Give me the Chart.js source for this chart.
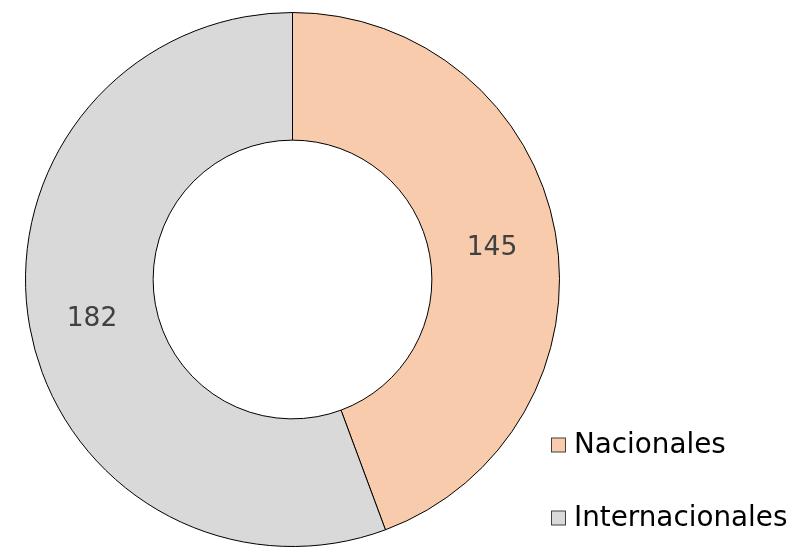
<!DOCTYPE html>
<html>
<head>
<meta charset="utf-8">
<script src="https://cdn.jsdelivr.net/npm/chart.js@4/dist/chart.umd.min.js"></script>
<style>
html,body{margin:0;padding:0;background:#fff;}
#wrap{width:793px;height:547px;position:relative;overflow:hidden;}
</style>
</head>
<body>
<div id="wrap"><canvas id="c" width="793" height="547"></canvas></div>
<script>
const categories = ["Nacionales", "Internacionales"];
const values = [145, 182];
const colors = ["#F8CBAD", "#D9D9D9"];

const labelPlugin = {
  id: 'sliceLabels',
  afterDatasetsDraw(chart) {
    const ctx = chart.ctx;
    const meta = chart.getDatasetMeta(0);
    ctx.save();
    ctx.font = '26.5px "DejaVu Sans"';
    ctx.fillStyle = '#404040';
    ctx.textAlign = 'center';
    ctx.textBaseline = 'alphabetic';
    meta.data.forEach((arc, i) => {
      const p = arc.getCenterPoint();
      ctx.fillText(String(values[i]), p.x - 0.5, p.y + 11);
    });
    ctx.restore();
  }
};

const legendPlugin = {
  id: 'customLegend',
  afterDraw(chart) {
    const ctx = chart.ctx;
    ctx.save();
    ctx.font = '27.8px "DejaVu Sans"';
    ctx.textBaseline = 'alphabetic';
    ctx.textAlign = 'left';
    const x0 = 551.5, y0 = 452.5, gap = 73, box = 14;
    categories.forEach((c, i) => {
      const y = y0 + i * gap;
      ctx.fillStyle = colors[i];
      ctx.fillRect(x0, y - 14.5, box, box);
      ctx.strokeStyle = '#404040';
      ctx.lineWidth = 1;
      ctx.strokeRect(x0, y - 14.5, box, box);
      ctx.fillStyle = '#000000';
      ctx.fillText(c, 574, y);
    });
    ctx.restore();
  }
};

new Chart(document.getElementById('c'), {
  type: 'doughnut',
  data: {
    labels: categories,
    datasets: [{
      data: values,
      backgroundColor: colors,
      borderColor: '#000000',
      borderWidth: 1,
      borderAlign: 'center'
    }]
  },
  options: {
    responsive: false,
    animation: false,
    cutout: '52.2%',
    layout: { padding: { left: 24, right: 232, top: 12, bottom: -2 } },
    plugins: {
      legend: { display: false },
      tooltip: { enabled: false }
    }
  },
  plugins: [labelPlugin, legendPlugin]
});
</script>
</body>
</html>
